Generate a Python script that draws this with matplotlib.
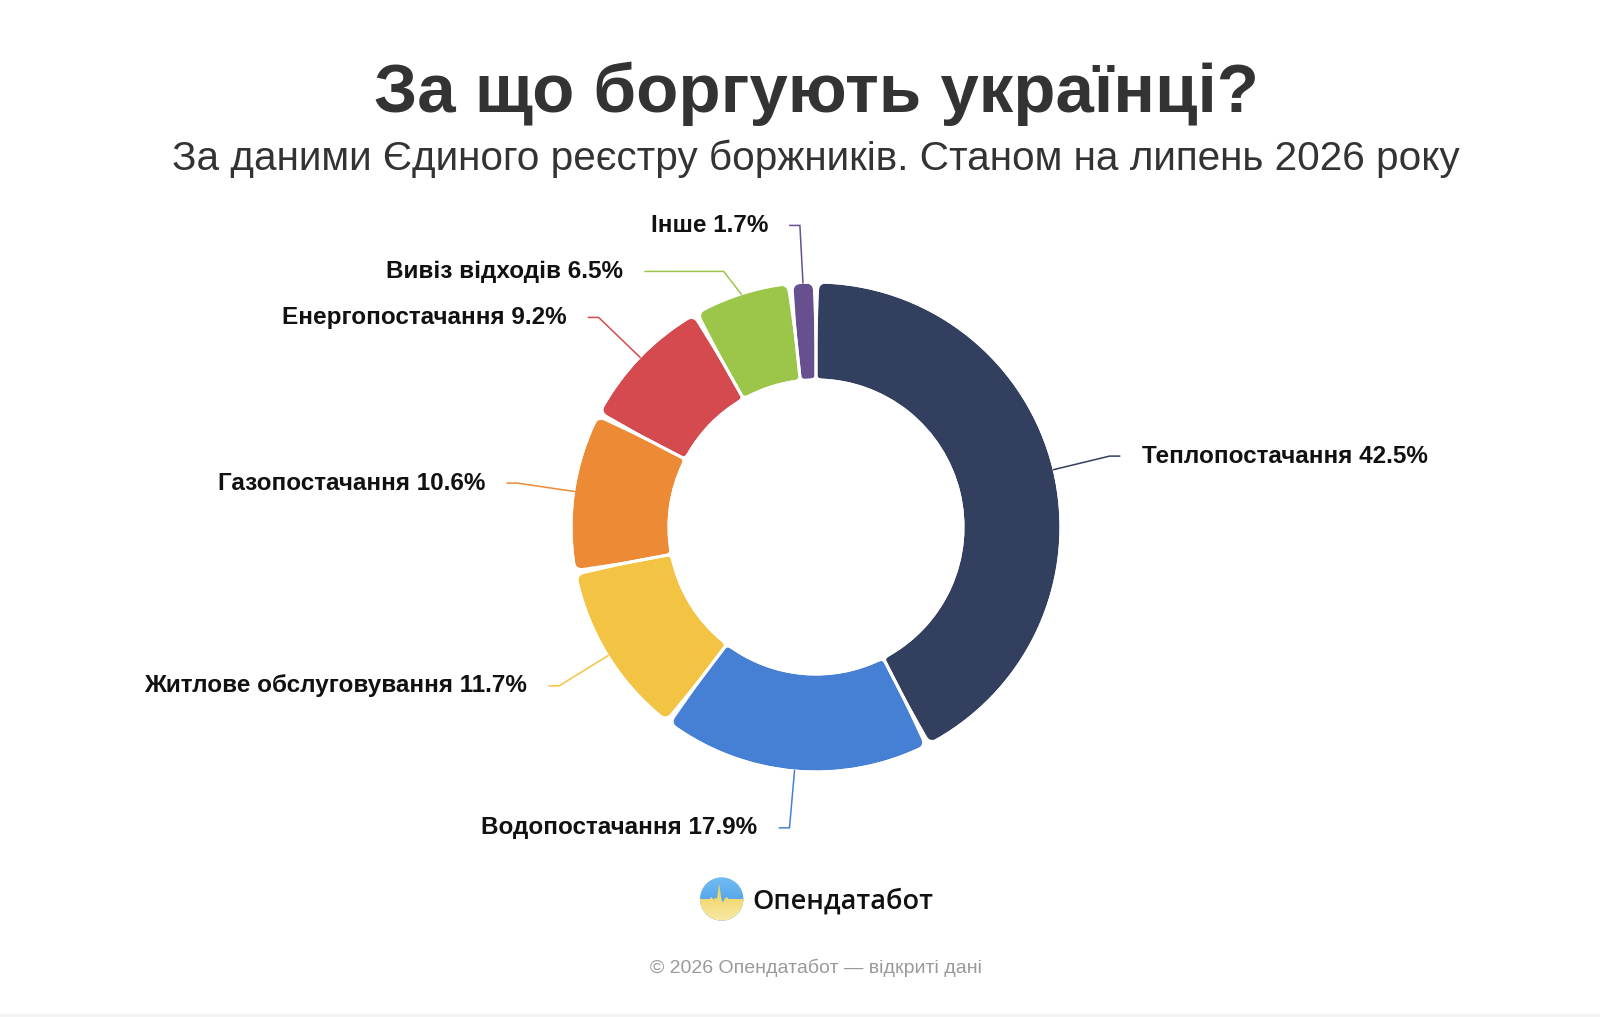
import numpy as np
import matplotlib
matplotlib.use("Agg")
import matplotlib.pyplot as plt
from matplotlib.patches import Circle, Polygon, Rectangle
from matplotlib.colors import LinearSegmentedColormap

# ---------------- data ----------------
categories = ["Теплопостачання", "Водопостачання", "Житлове обслуговування",
              "Газопостачання", "Енергопостачання", "Вивіз відходів", "Інше"]
shares = [42.5, 17.9, 11.7, 10.6, 9.2, 6.5, 1.7]
colors = ["#333f5f", "#4680d4", "#f3c344", "#ec8a35", "#d54a4e", "#9bc64a", "#67508f"]

title = "За що боргують українці?"
subtitle = "За даними Єдиного реєстру боржників. Станом на липень 2026 року"
brand = "Опендатабот"
footer = "© 2026 Опендатабот — відкриті дані"

# ---------------- layout ----------------
W, H = 1600, 1017
fig = plt.figure(figsize=(W / 100, H / 100), dpi=100)
fig.patch.set_facecolor("white")
ax = fig.add_axes([0, 0, 1, 1])

PT = 72 / 100          # points per pixel
CX, CY = 816, H - 527
R_OUT, R_IN = 243.5, 148.5
RC, GAP = 6, 3

# rounded coloured segments
wedges, _ = ax.pie(shares, colors=colors, startangle=90, counterclock=False,
                   radius=R_OUT - RC, center=(CX, CY), frame=True,
                   wedgeprops=dict(width=R_OUT - R_IN - 2 * RC,
                                   linewidth=2 * RC * PT, joinstyle="round"))
mids = []
shrink = np.degrees((RC + GAP / 2) / ((R_OUT + R_IN) / 2))
for w in wedges:
    mids.append((w.theta1 + w.theta2) / 2)
    w.set_edgecolor(w.get_facecolor())
    w.set_theta1(w.theta1 + shrink)
    w.set_theta2(w.theta2 - shrink)

# white separators
ax.pie(shares, startangle=90, counterclock=False, radius=R_OUT + GAP / 2,
       center=(CX, CY), frame=True,
       wedgeprops=dict(width=R_OUT - R_IN + GAP, facecolor="none",
                       edgecolor="white", linewidth=GAP * PT))

# ---------------- labels ----------------
R1, LEN2, TXT_GAP, SEP = 302, 10, 22, 46
items = []
for name, val, col, th in zip(categories, shares, colors, mids):
    a = np.radians(th)
    side = 1 if np.cos(a) >= 0 else -1
    items.append(dict(name=name, val=val, col=col, a=a, side=side,
                      ex=CX + R1 * np.cos(a), ey=CY + R1 * np.sin(a)))
for side in (1, -1):
    grp = sorted([it for it in items if it["side"] == side], key=lambda d: -d["ey"])
    prev = None
    for it in grp:
        it["y"] = it["ey"] if prev is None else min(it["ey"], prev - SEP)
        prev = it["y"]

for it in items:
    a, side = it["a"], it["side"]
    x0, y0 = CX + (R_OUT + 1) * np.cos(a), CY + (R_OUT + 1) * np.sin(a)
    dy = abs(it["y"] - CY)
    if dy < R1:
        xe = CX + side * (np.sqrt(R1 ** 2 - dy ** 2) + LEN2)
    else:
        xe = it["ex"] + side * LEN2
    ax.plot([x0, it["ex"], xe], [y0, it["y"], it["y"]], color=it["col"],
            lw=1.1, solid_joinstyle="miter", zorder=1)
    ax.text(xe + side * TXT_GAP, it["y"], f"{it['name']} {it['val']}%",
            ha="left" if side > 0 else "right", va="center",
            fontsize=17.5, fontweight="bold", color="#111111",
            family="Liberation Sans")

# ---------------- titles ----------------
ax.text(816, H - 111.7, title, ha="center", va="baseline", fontsize=49.7,
        fontweight="bold", color="#333333", family="Liberation Sans")
ax.text(816, H - 170, subtitle, ha="center", va="baseline", fontsize=29.2,
        color="#333333", family="Liberation Sans")

# ---------------- logo ----------------
LX, LY, LR = 721.7, H - 899, 21.7
blue = LinearSegmentedColormap.from_list("b", ["#3f90e4", "#70bdf2"])
yell = LinearSegmentedColormap.from_list("y", ["#f8e9a8", "#efc83e"])
grad = np.linspace(0, 1, 64).reshape(-1, 1)
ext = [LX - LR, LX + LR, LY - LR, LY + LR]
im1 = ax.imshow(grad, cmap=blue, extent=ext, origin="lower", aspect="auto", zorder=3)
circ = Circle((LX, LY), LR, transform=ax.transData)
im1.set_clip_path(circ)
wave = [(-1, 0.0), (-0.55, 0.0), (-0.46, 0.1), (-0.38, -0.04), (-0.3, 0.06),
        (-0.22, 0.0), (-0.12, 0.72), (-0.02, 0.02), (0.06, -0.16), (0.14, 0.02),
        (0.24, 0.09), (0.32, 0.0), (1, 0.0)]
arc = [(np.cos(t), np.sin(t)) for t in np.linspace(0, -np.pi, 40)]
poly_pts = [(LX + LR * x, LY + LR * y) for x, y in wave + arc]
im2 = ax.imshow(grad, cmap=yell, extent=ext, origin="lower", aspect="auto", zorder=4)
im2.set_clip_path(Polygon(poly_pts, closed=True, transform=ax.transData))
ax.text(752, H - 908.3, brand, ha="left", va="baseline", fontsize=19.5,
        fontweight="semibold", color="#111111", family="Open Sans")

ax.text(816, H - 973.3, footer, ha="center", va="baseline", fontsize=14,
        color="#9a9a9a", family="Liberation Sans")

ax.add_patch(Rectangle((0, 0), W, 3.5, facecolor="#f4f4f4", edgecolor="none"))

ax.set_xlim(0, W)
ax.set_ylim(0, H)
ax.set_aspect("auto")
ax.axis("off")
fig.savefig("out.png", dpi=100, facecolor="white")
